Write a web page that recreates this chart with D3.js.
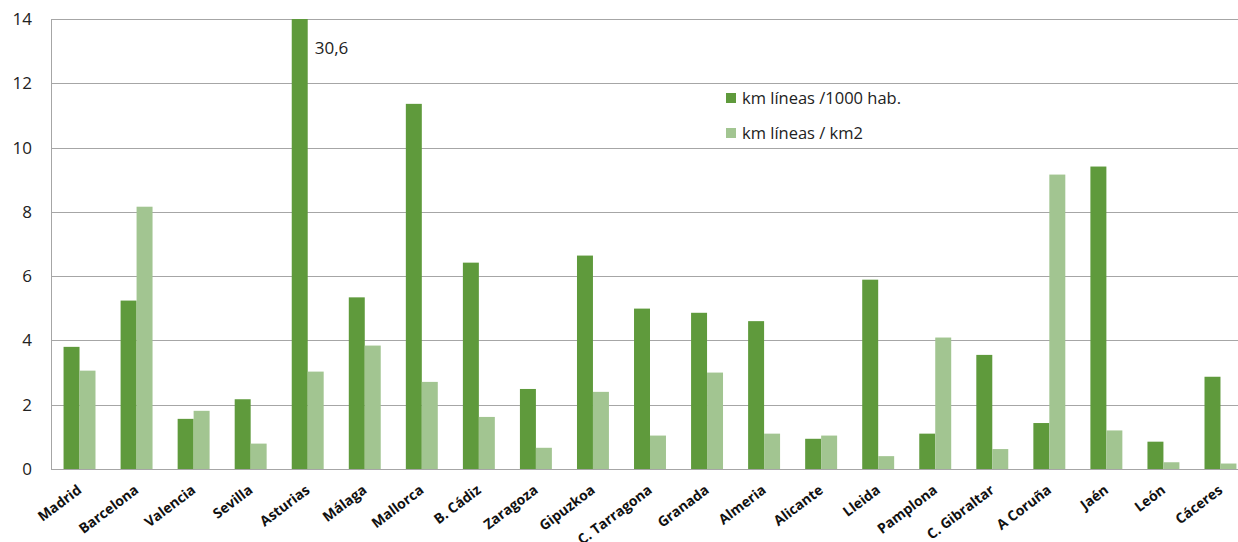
<!DOCTYPE html>
<html lang="es">
<head>
<meta charset="UTF-8">
<title>km líneas por provincia</title>
<script src="https://d3js.org/d3.v7.min.js"></script>
<style>
  body { margin: 0; background: #fff; }
  svg { display: block; font-family: "Open Sans", "Liberation Sans", sans-serif; }
  .grid line { stroke: #a6a6a6; stroke-width: 1; }
  .ylab text { font-size: 17px; fill: #222; }
  .xlab text { font-size: 14px; font-weight: bold; fill: #111; }
  .legend text { font-size: 16.5px; fill: #222; }
</style>
</head>
<body>
<svg id="chart" width="1238" height="542"></svg>
<script>
// data
const cities = ["Madrid", "Barcelona", "Valencia", "Sevilla", "Asturias", "Málaga", "Mallorca",
  "B. Cádiz", "Zaragoza", "Gipuzkoa", "C. Tarragona", "Granada", "Almeria", "Alicante",
  "Lleida", "Pamplona", "C. Gibraltar", "A Coruña", "Jaén", "León", "Cáceres"];
const perHab = [3.80, 5.24, 1.56, 2.17, 30.6, 5.34, 11.36, 6.42, 2.49, 6.64, 4.99, 4.86, 4.60, 0.94,
  5.89, 1.10, 3.55, 1.43, 9.41, 0.85, 2.87];
const perKm2 = [3.06, 8.16, 1.81, 0.79, 3.03, 3.84, 2.71, 1.62, 0.66, 2.40, 1.04, 3.00, 1.10, 1.04,
  0.40, 4.09, 0.62, 9.16, 1.20, 0.21, 0.17];
const seriesNames = ["km líneas /1000 hab.", "km líneas / km2"];
const seriesColors = ["#5f9a3c", "#a2c591"];
const yTicks = [0, 2, 4, 6, 8, 10, 12, 14];
const yMax = 14;

const svg = d3.select("#chart");
const margin = { top: 19, left: 51, bottom: 73 };
const plotRight = 1249; // the original plot runs a little past the picture edge
const height = 542;

const x = d3.scaleBand().domain(cities).range([margin.left, plotRight])
  .paddingInner(0.44).paddingOuter(0.22);
const xs = d3.scaleBand().domain([0, 1]).range([0, x.bandwidth()]);
const y = d3.scaleLinear().domain([0, yMax]).range([height - margin.bottom, margin.top]);

// gridlines
svg.append("g").attr("class", "grid")
  .selectAll("line").data(yTicks).join("line")
  .attr("x1", margin.left).attr("x2", 1238)
  .attr("y1", d => Math.round(y(d)) + 0.5).attr("y2", d => Math.round(y(d)) + 0.5);

svg.append("line")
  .attr("x1", margin.left + 0.5).attr("x2", margin.left + 0.5)
  .attr("y1", y(yMax)).attr("y2", y(0))
  .attr("stroke", "#a6a6a6");

// y labels
svg.append("g").attr("class", "ylab")
  .selectAll("text").data(yTicks).join("text")
  .attr("x", 32).attr("y", d => y(d)).attr("dy", "0.35em")
  .attr("text-anchor", "end")
  .text(d => d);

// bars
const rows = cities.map((c, i) => ({ city: c, vals: [perHab[i], perKm2[i]] }));
const groups = svg.append("g").selectAll("g").data(rows).join("g")
  .attr("transform", d => `translate(${x(d.city)},0)`);
groups.selectAll("rect").data(d => d.vals.map((v, k) => ({ v, k }))).join("rect")
  .attr("x", d => xs(d.k))
  .attr("width", xs.bandwidth())
  .attr("y", d => y(Math.min(d.v, yMax)))
  .attr("height", d => y(0) - y(Math.min(d.v, yMax)))
  .attr("fill", d => seriesColors[d.k]);

// value label for the clipped bar
rows.forEach(r => {
  if (r.vals[0] > yMax) {
    svg.append("text")
      .attr("x", x(r.city) + xs(1) + 7)
      .attr("y", y(yMax) + 35)
      .attr("font-size", "17px").attr("fill", "#222")
      .text(String(r.vals[0]).replace(".", ","));
  }
});

// x labels
svg.append("g").attr("class", "xlab")
  .selectAll("text").data(cities).join("text")
  .attr("text-anchor", "end")
  .attr("transform", d => `translate(${x(d) + x.bandwidth() / 2 + 3},${y(0) + 23}) rotate(-37)`)
  .text(d => d);

// legend
const lg = svg.append("g").attr("class", "legend")
  .selectAll("g").data(seriesNames).join("g")
  .attr("transform", (d, i) => `translate(726,${98 + i * 35})`);
lg.append("rect").attr("x", 0).attr("y", -5).attr("width", 10).attr("height", 10)
  .attr("fill", (d, i) => seriesColors[i]);
lg.append("text").attr("x", 16).attr("dy", "0.35em").text(d => d);
</script>
</body>
</html>
